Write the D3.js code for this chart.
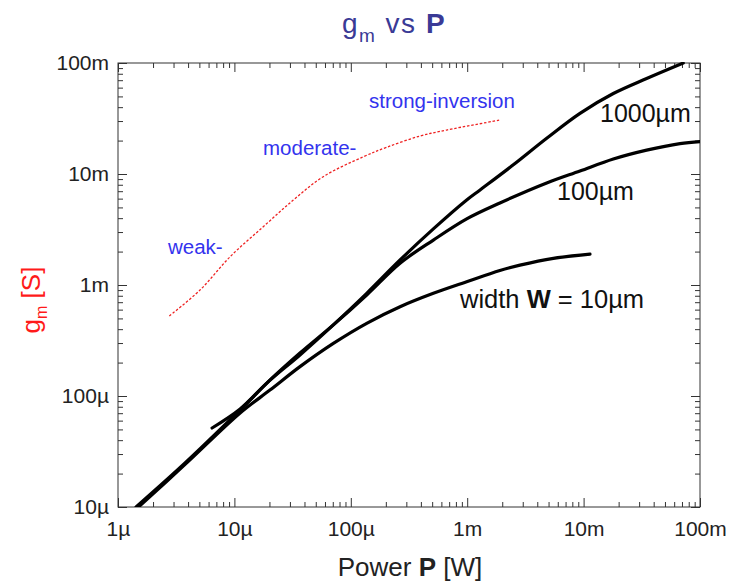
<!DOCTYPE html>
<html>
<head>
<meta charset="utf-8">
<script src="https://cdn.jsdelivr.net/npm/d3@7"></script>
<style>
  body { margin: 0; background: #fff; }
  svg { display: block; }
  text { font-family: "Liberation Sans", Arial, Helvetica, sans-serif; }
</style>
</head>
<body>
<svg id="chart" width="729" height="583"></svg>
<script>
// Axis decades and their labels
const xTicks = [1e-6, 1e-5, 1e-4, 1e-3, 1e-2, 1e-1];
const xTickLabels = ["1µ", "10µ", "100µ", "1m", "10m", "100m"];
const yTicks = [1e-5, 1e-4, 1e-3, 1e-2, 1e-1];
const yTickLabels = ["10µ", "100µ", "1m", "10m", "100m"];

// Transconductance gm [S] against power P [W] for three device widths
const power10 = [1.5e-6, 3.77e-6, 1.12e-5, 2.02e-5, 3.66e-5, 7.08e-5, 1.37e-4, 2.65e-4, 5.12e-4, 9.9e-4, 1.91e-3, 2.84e-3, 5.5e-3, 1.135e-2];
const gm10    = [1.0e-5, 2.42e-5, 7.03e-5, 1.13e-4, 1.84e-4, 2.98e-4, 4.52e-4, 6.37e-4, 8.41e-4, 1.07e-3, 1.35e-3, 1.51e-3, 1.74e-3, 1.90e-3];

const power100 = [1.43e-6, 3.77e-6, 1.12e-5, 2.02e-5, 3.66e-5, 7.08e-5, 1.37e-4, 2.65e-4, 5.12e-4, 9.9e-4, 1.91e-3, 4.82e-3, 9.31e-3, 1.8e-2, 3.48e-2, 6.73e-2, 1e-1];
const gm100    = [1.0e-5, 2.49e-5, 7.48e-5, 1.39e-4, 2.44e-4, 4.37e-4, 8.13e-4, 1.57e-3, 2.54e-3, 3.94e-3, 5.48e-3, 8.30e-3, 1.064e-2, 1.364e-2, 1.64e-2, 1.88e-2, 1.96e-2];

const power1000 = [6.43e-6, 1.12e-5, 1.98e-5, 3.66e-5, 7.08e-5, 1.37e-4, 2.65e-4, 5.12e-4, 9.9e-4, 1.29e-3, 2.49e-3, 4.82e-3, 9.31e-3, 1.8e-2, 3.48e-2, 7.18e-2];
const gm1000    = [5.15e-5, 7.64e-5, 1.36e-4, 2.34e-4, 4.37e-4, 8.41e-4, 1.68e-3, 3.2e-3, 5.83e-3, 7.18e-3, 1.21e-2, 2.1e-2, 3.52e-2, 5.31e-2, 7.25e-2, 1e-1];

// Inversion-level guide (weak -> moderate -> strong)
const regionPower = [2.76e-6, 5.06e-6, 9.2e-6, 1.77e-5, 3.21e-5, 5.8e-5, 1.28e-4, 2.03e-4, 3.94e-4, 6.67e-4, 1.91e-3];
const regionGm    = [5.26e-4, 9.0e-4, 1.80e-3, 3.35e-3, 5.83e-3, 9.46e-3, 1.43e-2, 1.74e-2, 2.20e-2, 2.49e-2, 3.06e-2];

const svg = d3.select("#chart");
const plotLeft = 118, plotRight = 700, plotTop = 63, plotBottom = 507;

const x = d3.scaleLog().domain([1e-6, 1e-1]).range([plotLeft, plotRight]);
const y = d3.scaleLog().domain([1e-5, 1e-1]).range([plotBottom, plotTop]);

function minorTicks(majors) {
  const out = [];
  for (let i = 0; i < majors.length - 1; i++)
    for (let k = 2; k <= 9; k++) out.push(majors[i] * k);
  return out;
}
const xMinor = minorTicks(xTicks);
const yMinor = minorTicks(yTicks);

const axisColor = "#333";
const labelColor = "#222";

function styleAxis(g) {
  g.select(".domain").remove();
  g.selectAll(".tick line").attr("stroke", axisColor);
  g.selectAll(".tick text").attr("fill", labelColor).style("font-size", "21px");
}

// bottom axis
svg.append("g").attr("transform", `translate(0,${plotBottom})`)
  .call(d3.axisBottom(x).tickValues(xTicks).tickSizeInner(-9).tickSizeOuter(0)
    .tickPadding(14).tickFormat((d, i) => xTickLabels[i]))
  .call(styleAxis);
svg.append("g").attr("transform", `translate(0,${plotBottom})`)
  .call(d3.axisBottom(x).tickValues(xMinor).tickSizeInner(-5).tickSizeOuter(0).tickFormat(""))
  .call(styleAxis);
// top axis
svg.append("g").attr("transform", `translate(0,${plotTop})`)
  .call(d3.axisTop(x).tickValues(xTicks).tickSizeInner(-9).tickSizeOuter(0).tickFormat(""))
  .call(styleAxis);
svg.append("g").attr("transform", `translate(0,${plotTop})`)
  .call(d3.axisTop(x).tickValues(xMinor).tickSizeInner(-5).tickSizeOuter(0).tickFormat(""))
  .call(styleAxis);
// left axis
svg.append("g").attr("transform", `translate(${plotLeft},0)`)
  .call(d3.axisLeft(y).tickValues(yTicks).tickSizeInner(-9).tickSizeOuter(0)
    .tickPadding(9).tickFormat((d, i) => yTickLabels[i]))
  .call(styleAxis);
svg.append("g").attr("transform", `translate(${plotLeft},0)`)
  .call(d3.axisLeft(y).tickValues(yMinor).tickSizeInner(-5).tickSizeOuter(0).tickFormat(""))
  .call(styleAxis);
// right axis
svg.append("g").attr("transform", `translate(${plotRight},0)`)
  .call(d3.axisRight(y).tickValues(yTicks).tickSizeInner(-9).tickSizeOuter(0).tickFormat(""))
  .call(styleAxis);
svg.append("g").attr("transform", `translate(${plotRight},0)`)
  .call(d3.axisRight(y).tickValues(yMinor).tickSizeInner(-5).tickSizeOuter(0).tickFormat(""))
  .call(styleAxis);

// plot frame
svg.append("rect")
  .attr("x", plotLeft).attr("y", plotTop)
  .attr("width", plotRight - plotLeft).attr("height", plotBottom - plotTop)
  .attr("fill", "none").attr("stroke", axisColor).attr("stroke-width", 1);

svg.append("clipPath").attr("id", "plotClip")
  .append("rect").attr("x", plotLeft).attr("y", plotTop - 1)
  .attr("width", plotRight - plotLeft).attr("height", plotBottom - plotTop + 1);

const line = d3.line()
  .x(d => x(d[0])).y(d => y(d[1]))
  .curve(d3.curveCatmullRom.alpha(0.5));

const plot = svg.append("g").attr("clip-path", "url(#plotClip)");

// inversion-level guide
plot.append("path")
  .datum(d3.zip(regionPower, regionGm))
  .attr("d", line)
  .attr("fill", "none")
  .attr("stroke", "#ee2222")
  .attr("stroke-width", 1.3)
  .attr("stroke-dasharray", "2.5,1.8");

// width curves
[[power10, gm10], [power100, gm100], [power1000, gm1000]].forEach(([p, g]) => {
  plot.append("path")
    .datum(d3.zip(p, g))
    .attr("d", line)
    .attr("fill", "none")
    .attr("stroke", "#000")
    .attr("stroke-width", 3.2)
    .attr("stroke-linejoin", "round")
    .attr("stroke-linecap", "round");
});

// title
const title = svg.append("text")
  .attr("x", 394).attr("y", 33)
  .attr("text-anchor", "middle")
  .attr("fill", "#3a3a96")
  .style("font-size", "28px")
  .style("letter-spacing", "1.5px");
title.append("tspan").text("g");
title.append("tspan").attr("dy", 9).style("font-size", "19px").text("m");
title.append("tspan").attr("dy", -9).text(" vs ");
title.append("tspan").style("font-weight", "bold").text("P");

// y-axis title
const yTitle = svg.append("text")
  .attr("transform", "translate(40,300) rotate(-90)")
  .attr("text-anchor", "middle")
  .attr("fill", "#ff1a1a")
  .style("font-size", "26px");
yTitle.append("tspan").text("g");
yTitle.append("tspan").attr("dy", 7).style("font-size", "16px").text("m");
yTitle.append("tspan").attr("dy", -7).text(" [S]");

// x-axis title
const xTitle = svg.append("text")
  .attr("x", 410).attr("y", 576)
  .attr("text-anchor", "middle")
  .attr("fill", labelColor)
  .style("font-size", "26px");
xTitle.append("tspan").text("Power ");
xTitle.append("tspan").style("font-weight", "bold").text("P");
xTitle.append("tspan").text(" [W]");

// inversion-level annotations
const blue = "#3333ee";
[["strong-inversion", 369, 108], ["moderate-", 263, 155], ["weak-", 168, 254]].forEach(([t, tx, ty]) => {
  svg.append("text").attr("x", tx).attr("y", ty)
    .attr("fill", blue).style("font-size", "20.5px").text(t);
});

// width annotations
svg.append("text").attr("x", 600).attr("y", 122)
  .attr("fill", "#111").style("font-size", "25px").text("1000µm");
svg.append("text").attr("x", 557).attr("y", 200)
  .attr("fill", "#111").style("font-size", "25px").text("100µm");
const wLabel = svg.append("text").attr("x", 460).attr("y", 308)
  .attr("fill", "#111").style("font-size", "25.5px");
wLabel.append("tspan").text("width ");
wLabel.append("tspan").style("font-weight", "bold").text("W");
wLabel.append("tspan").text(" = 10µm");
</script>
</body>
</html>
